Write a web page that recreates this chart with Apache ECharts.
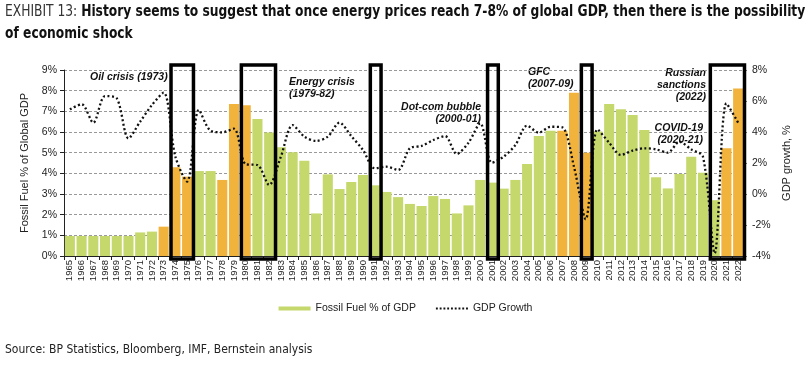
<!DOCTYPE html>
<html><head><meta charset="utf-8">
<script src="https://cdn.jsdelivr.net/npm/echarts@6/dist/echarts.min.js"></script>
<style>html,body{margin:0;padding:0;background:#fff}#c{width:811px;height:368px}</style>
</head><body><div id="c"></div>
<script>
const years = ['1965','1966','1967','1968','1969','1970','1971','1972','1973','1974','1975','1976','1977','1978','1979','1980','1981','1982','1983','1984','1985','1986','1987','1988','1989','1990','1991','1992','1993','1994','1995','1996','1997','1998','1999','2000','2001','2002','2003','2004','2005','2006','2007','2008','2009','2010','2011','2012','2013','2014','2015','2016','2017','2018','2019','2020','2021','2022'];
const fossilFuelPct = [0.97,0.97,0.97,0.97,0.97,0.97,1.14,1.18,1.42,4.29,3.84,4.11,4.11,3.68,7.35,7.30,6.63,5.98,5.26,5.02,4.61,2.06,3.95,3.24,3.58,3.92,3.42,3.10,2.85,2.52,2.42,2.90,2.76,2.06,2.45,3.68,3.55,3.26,3.68,4.45,5.81,6.06,6.06,7.90,5.00,6.02,7.35,7.10,6.82,6.10,3.81,3.27,3.97,4.80,4.03,2.70,5.21,8.10];
const gdpGrowth = [5.46,5.79,4.60,6.32,6.17,3.59,4.67,5.74,6.54,2.41,0.80,5.42,4.08,3.98,4.21,1.92,1.87,0.58,2.41,4.45,3.70,3.42,3.70,4.60,3.74,2.84,1.66,1.76,1.55,2.95,3.10,3.48,3.74,2.58,3.31,4.56,2.02,2.41,3.16,4.41,3.96,4.34,4.30,1.76,-1.63,4.17,3.31,2.52,2.80,2.95,2.88,2.67,3.37,2.88,2.41,-3.83,5.85,4.60];
const highlightYears = ['1973','1974','1975','1978','1979','1980','2007','2008','2009','2021','2022'];
const shockBoxes = [['1974','1975'],['1980','1982'],['1991','1991'],['2001','2001'],['2009','2009'],['2020','2022']];
const leftTicks = {min:0, max:9, interval:1};
const rightTicks = {min:-4, max:8, interval:2};

const GREEN = '#c5d86c', ORANGE = '#f2b33c';
const AX = 'Liberation Sans, Arial, sans-serif';
const COND = '"Liberation Sans Narrow","DejaVu Sans Condensed","Liberation Sans",sans-serif';

let dotPath = 'path://';
for (let k = 0; k < 9; k++) dotPath += 'M' + (k*4) + ',0h2v2h-2z';

const chart = echarts.init(document.getElementById('c'), null, {renderer:'canvas'});
const barData = fossilFuelPct.map((v,i)=>({value:v, itemStyle:{color: highlightYears.includes(years[i]) ? ORANGE : GREEN}}));
const boxData = shockBoxes.map(b=>[years.indexOf(b[0]), years.indexOf(b[1])]);
const annStyle = {fontFamily: AX, fontSize: 10.5, fontStyle:'italic', fontWeight:'bold', fill:'#111', lineHeight: 12};

chart.setOption({
  animation:false,
  textStyle:{fontFamily:AX},
  legend:{
    left:'center', top:298, itemWidth:32, itemHeight:4, itemGap:20,
    textStyle:{fontFamily:AX, fontSize:10.5, color:'#222'},
    data:[{name:'Fossil Fuel % of GDP', icon:'rect'}, {name:'GDP Growth', icon:dotPath, itemStyle:{color:'#111'}}]
  },
  grid:{left:64, right:67, top:70, bottom:112},
  xAxis:{
    type:'category', data:years, boundaryGap:true,
    axisLine:{lineStyle:{color:'#222'}},
    axisTick:{show:true, lineStyle:{color:'#222'}, length:4},
    axisLabel:{rotate:90, fontSize:9.5, color:'#222', interval:0, margin:4}
  },
  yAxis:[{
    type:'value', min:leftTicks.min, max:leftTicks.max, interval:leftTicks.interval,
    name:'Fossil Fuel % of Global GDP', nameLocation:'middle', nameGap:30,
    nameTextStyle:{fontSize:11, color:'#222'},
    axisLine:{show:true, lineStyle:{color:'#222'}},
    axisTick:{show:true, length:4, lineStyle:{color:'#222'}},
    axisLabel:{formatter:'{value}%', fontSize:10.5, color:'#222', margin:7},
    splitLine:{show:true, lineStyle:{color:'#999', type:[3,2], width:1}}
  },{
    type:'value', min:rightTicks.min, max:rightTicks.max, interval:rightTicks.interval,
    name:'GDP growth, %', nameLocation:'middle', nameGap:33, nameRotate:90,
    nameTextStyle:{fontSize:11, color:'#222'},
    axisLine:{show:false},
    axisTick:{show:true, length:3, lineStyle:{color:'#777'}},
    axisLabel:{formatter:'{value}%', fontSize:10.5, color:'#222', margin:8},
    splitLine:{show:false}
  }],
  series:[{
    name:'Fossil Fuel % of GDP', type:'bar', data:barData, barCategoryGap:'14%',
    itemStyle:{color:GREEN}, z:2
  },{
    name:'GDP Growth', type:'line', yAxisIndex:1, data:gdpGrowth, smooth:0.3,
    symbol:'none', z:3,
    lineStyle:{color:'#111', width:2.3, type:[2,2.5]},
    itemStyle:{color:'#111'}
  },{
    name:'boxes', type:'custom', data:boxData, clip:false, z:4, silent:true,
    renderItem:function(params, api){
      const s = api.value(0), e = api.value(1);
      const bw = api.size([1,0])[0];
      const pTop = api.coord([s, leftTicks.max]);
      const pEnd = api.coord([e, leftTicks.min]);
      const x0 = pTop[0] - bw/2 + 1.5, x1 = pEnd[0] + bw/2 + 0.5;
      const y0 = pTop[1] - 5, y1 = pEnd[1] + 3;
      return {type:'rect', shape:{x:x0, y:y0, width:x1-x0, height:y1-y0},
        style:{fill:null, stroke:'#000', lineWidth:3.5}};
    }
  }],
  graphic:[
    {type:'text', left:5, top:5, scaleX:0.91, style:{
      text:'{a|EXHIBIT 13: }{b|History seems to suggest that once energy prices reach 7-8% of global GDP, then there is the possibility}\n{b|of economic shock}',
      rich:{
        a:{fontFamily:COND, fontSize:15, fontWeight:'normal', fill:'#333', lineHeight:22},
        b:{fontFamily:COND, fontSize:15, fontWeight:'bold', fill:'#111', lineHeight:22}
      }}},
    {type:'text', left:90, top:71, style:Object.assign({text:'Oil crisis (1973)'}, annStyle)},
    {type:'text', left:289, top:76, style:Object.assign({text:'Energy crisis\n(1979-82)'}, annStyle)},
    {type:'text', right:811-481, top:101, style:Object.assign({text:'Dot-com bubble\n(2000-01)', textAlign:'right'}, annStyle)},
    {type:'text', left:528, top:66, style:Object.assign({text:'GFC\n(2007-09)'}, annStyle)},
    {type:'text', right:811-706, top:67, style:Object.assign({text:'Russian\nsanctions\n(2022)', textAlign:'right'}, annStyle)},
    {type:'text', right:811-703, top:122, style:Object.assign({text:'COVID-19\n(2020-21)', textAlign:'right'}, annStyle)},
    {type:'text', left:5, top:344, style:{text:'Source: BP Statistics, Bloomberg, IMF, Bernstein analysis', fontFamily:COND, fontSize:12, fill:'#222'}}
  ]
});
</script></body></html>
